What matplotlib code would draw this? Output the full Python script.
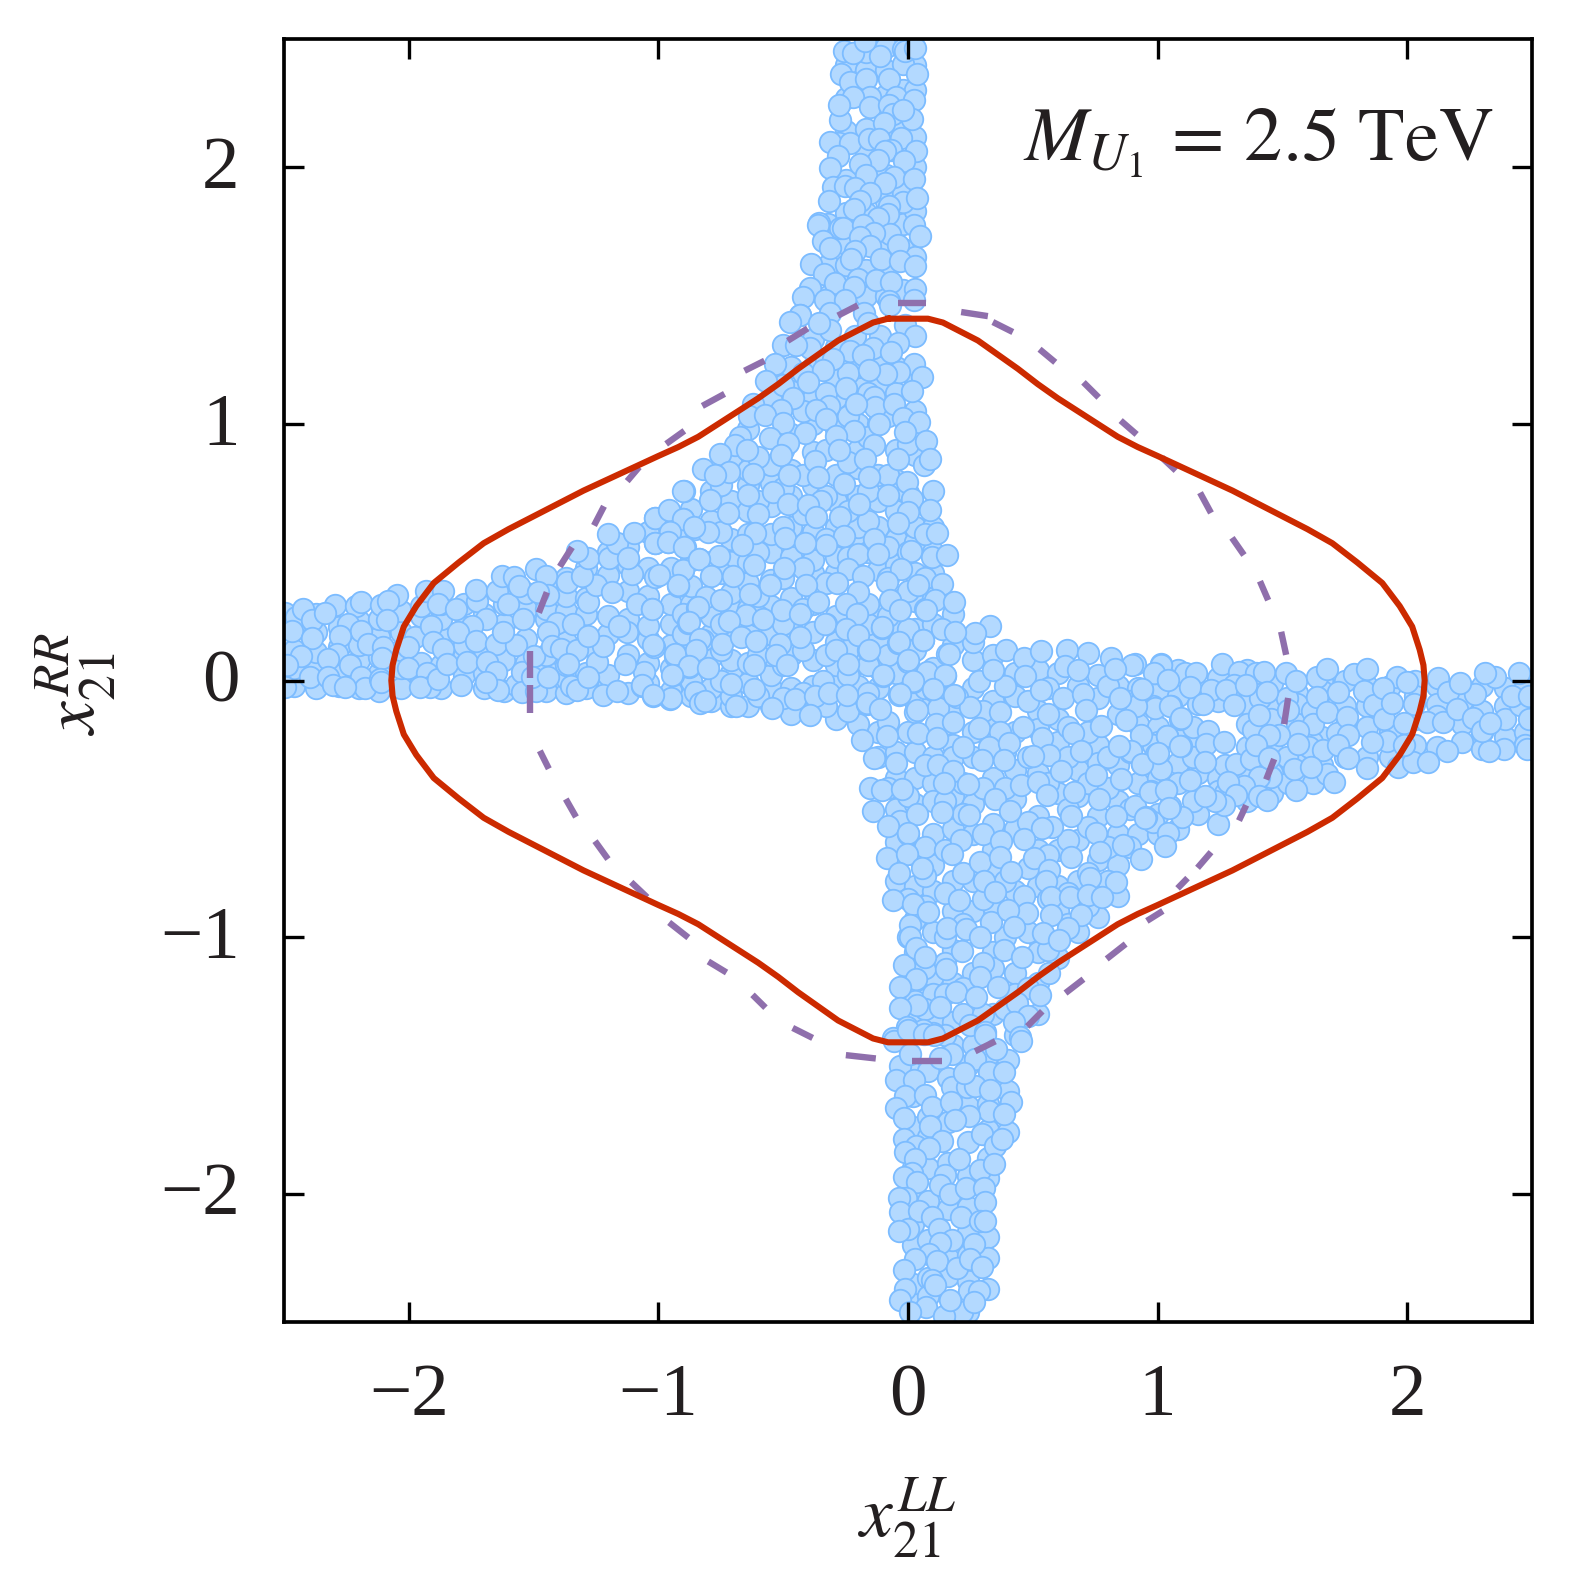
import numpy as np
import matplotlib
matplotlib.use('Agg')
import matplotlib.pyplot as plt
from matplotlib.transforms import ScaledTranslation

plt.rcParams['font.family'] = ['Liberation Serif', 'DejaVu Serif']
plt.rcParams['mathtext.fontset'] = 'stix'

# points, one list per part of the cross
top_arm = [(-0.245,2.44),(-0.21,2.43),(-0.10,2.42),(-0.01,2.39),(0,2.44),(0.04,2.45),(-0.16,2.48),(-0.255,2.35),(-0.22,2.32),(-0.155,2.33),(-0.065,2.33),(0.05,2.35),
    (-0.14,2.26),(-0.21,2.26),(-0.035,2.26),(0.035,2.25),(-0.26,2.17),(-0.265,2.23),(-0.14,2.22),(-0.065,2.23),(-0.05,2.195),(-0.085,2.16),(0.03,2.175),(-0.01,2.21),
    (-0.265,2.08),(-0.30,2.085),(-0.22,2.08),(-0.145,2.095),(-0.105,2.095),(-0.015,2.10),(-0.055,2.055),(-0.08,2.05),(0.045,2.05),(-0.11,2.015),(-0.18,2.0),(-0.005,2.01),
    (-0.27,2.03),(-0.30,1.985),(-0.155,1.955),(-0.045,1.95),(0.035,1.94),(-0.29,1.91),(-0.24,1.915),(-0.20,1.905),(-0.08,1.925),(-0.14,1.885),(-0.18,1.855),(-0.305,1.855),
    (-0.01,1.85),(0.05,1.865),(-0.205,1.825),(-0.065,1.835),(-0.07,1.805),(-0.11,1.79),(-0.345,1.77),(-0.35,1.76),(-0.26,1.75),(-0.25,1.75),(-0.17,1.76),(0.035,1.76),
    (-0.06,1.725),(-0.125,1.73),(-0.18,1.715),(0.06,1.72),(-0.33,1.70),(-0.30,1.67),(-0.03,1.685),(-0.14,1.68),(-0.20,1.66),(-0.375,1.61),(-0.215,1.63),(-0.095,1.63),
    (-0.02,1.62),(0.04,1.60),(-0.325,1.57),(-0.28,1.535),(-0.19,1.55),(-0.115,1.545),(-0.055,1.54),(-0.38,1.515),(-0.205,1.52),(0.04,1.51),(-0.41,1.48),(-0.32,1.47),
    (-0.24,1.47),(-0.065,1.465),(0.035,1.47),(-0.42,1.41),(-0.30,1.42),(-0.06,1.45),(-0.165,1.42),(0.0,1.37),(-0.1,1.33),(-0.2,1.33),(-0.3,1.35),(-0.15,1.38),(0.04,1.33),
    (-0.03,1.3),(-0.13,1.28),(-0.22,1.27)]

bottom_arm = [(-0.02,-1.515),(-0.035,-1.57),(0.035,-1.57),(0,-1.635),(0.08,-1.63),(-0.035,-1.68),(-0.005,-1.72),(0.11,-1.675),(0.19,-1.47),(0.28,-1.49),(0.335,-1.54),(0.395,-1.54),
    (0.19,-1.60),(0.25,-1.60),(0.28,-1.595),(0.185,-1.655),(0.34,-1.61),(0.425,-1.655),(0.335,-1.69),(0.255,-1.71),(0.20,-1.725),(0.395,-1.705),(0.10,-1.75),(-0.005,-1.80),
    (0.31,-1.78),(0.15,-1.81),(0.045,-1.83),(0,-1.85),(0.095,-1.835),(0.36,-1.83),(0.39,-1.80),(0.215,-1.88),(0.30,-1.92),(0.355,-1.90),(0.04,-1.88),(0.03,-1.935),
    (-0.005,-1.95),(0.05,-1.97),(0.16,-1.94),(0.14,-1.98),(0.18,-2.015),(0.245,-1.99),(0.315,-1.99),(0.005,-2.03),(-0.025,-2.03),(0.32,-2.045),(-0.02,-2.085),(0.055,-2.08),
    (0.11,-2.105),(0.225,-2.105),(0.30,-2.12),(0.32,-2.12),(0.01,-2.15),(-0.025,-2.16),(0.135,-2.15),(0.19,-2.195),(0.275,-2.21),(0.14,-2.205),(0.095,-2.25),(0.04,-2.27),
    (0.13,-2.275),(-0.005,-2.31),(0.21,-2.305),(0.26,-2.27),(0.31,-2.30),(0.11,-2.35),(0.12,-2.37),(0,-2.385),(-0.02,-2.43),(0.255,-2.395),(0.295,-2.395),(0.085,-2.455),
    (0.23,-2.475),(0.155,-2.49),(0.02,-2.475),(0.18,-2.43),(0.275,-2.435),(-0.045,-1.42),(0.01,-1.375),(0.075,-1.39),(0.115,-1.395),(0.32,-1.395),(0.365,-1.45),(0.465,-1.42),
    (0.02,-1.47),(0.14,-1.485),(0.235,-1.545)]

right_arm = [(0.92,0.05),(1.025,0.05),(1.0,0.015),(1.05,-0.01),(0.95,-0.05),(1.12,0.015),(1.165,0.015),(1.14,-0.04),(1.225,-0.05),(1.27,0.05),(1.34,0.02),(1.32,-0.03),(1.285,-0.05),
    (1.405,0.015),(1.44,0.02),(1.365,-0.03),(1.45,-0.06),(1.32,-0.11),(1.195,-0.105),(1.065,-0.115),(1.0,-0.12),(0.925,-0.115),(1.10,-0.165),(1.05,-0.23),(0.945,-0.225),
    (1.105,-0.27),(1.005,-0.30),(0.95,-0.34),(1.025,-0.36),(0.905,-0.29),(1.215,-0.21),(1.205,-0.26),(1.28,-0.255),(1.20,-0.33),(1.325,-0.34),(1.385,-0.32),(1.395,-0.205),
    (1.465,-0.165),(1.42,-0.15),(1.525,0.015),(1.565,-0.015),(1.65,0),(1.69,0.03),(1.65,-0.08),(1.735,-0.06),(1.535,-0.13),(1.635,-0.185),(1.69,-0.135),(1.575,-0.21),(1.50,-0.225),
    (1.46,-0.225),(1.405,-0.265),(1.62,-0.275),(1.575,-0.26),(1.675,-0.285),(1.73,-0.22),(1.77,-0.155),(1.775,-0.225),(1.735,-0.265),(1.775,-0.315),(1.85,-0.355),(1.975,-0.35),
    (2.035,-0.33),(2.095,-0.33),(2.17,-0.29),(2.31,-0.28),(2.40,-0.28),(2.49,-0.28),(2.34,-0.29),(1.80,0.01),(1.85,0.03),(1.84,-0.055),(1.88,-0.11),(1.92,-0.165),(1.97,0),(2.01,-0.02),
    (1.915,-0.045),(1.95,-0.10),(2.04,-0.105),(2.0,-0.18),(1.93,-0.25),(1.87,-0.255),(2.0,-0.265),(2.09,-0.175),(2.155,-0.175),(2.135,-0.005),(2.175,-0.06),(2.21,-0.125),(2.275,-0.16),
    (2.31,-0.21),(2.365,0),(2.325,0.015),(2.285,-0.065),(2.225,-0.025),(2.405,-0.165),(2.465,-0.11),(2.46,0.015),(2.50,-0.165),(2.43,-0.075),(2.345,-0.18),(2.50,-0.075),(1.635,-0.415),
    (1.69,-0.38),(1.72,-0.41),(1.535,-0.415),(1.565,-0.44),(1.465,-0.39),(1.42,-0.39),(1.56,-0.36),(1.46,-0.315),(1.625,-0.35),(1.36,-0.425),(1.295,-0.41),(1.42,-0.465),(1.325,-0.46),
    (1.28,-0.50),(1.14,-0.40),(1.045,-0.44),(0.985,-0.445),(0.92,-0.505),(1.11,-0.545),(1.06,-0.505),(1.24,-0.485),(1.20,-0.465),(1.45,-0.48),(0.965,-0.545)]

left_arm = [(-2.485,0.25),(-2.44,0.235),(-2.41,0.265),(-2.375,0.22),(-2.455,0.18),(-2.375,0.15),(-2.285,0.28),(-2.325,0.25),(-2.2,0.275),(-2.18,0.29),(-2.10,0.28),(-2.035,0.32),(-2.07,0.295),
    (-2.075,0.22),(-2.23,0.205),(-2.18,0.18),(-2.265,0.16),(-2.15,0.13),(-2.09,0.115),(-2.095,0.075),(-2.275,0.09),(-2.31,0.07),(-2.225,0.045),(-2.42,0.08),(-2.475,0.045),(-2.385,0),(-2.31,0),
    (-2.29,-0.03),(-2.485,-0.04),(-2.18,0),(-2.165,-0.045),(-2.245,-0.04),(-2.105,-0.01),(-2.10,-0.02),(-1.92,0.335),(-1.85,0.335),(-1.87,0.285),(-1.80,0.265),(-1.965,0.155),(-1.90,0.2),
    (-1.89,0.135),(-1.85,0.11),(-1.99,0.115),(-1.99,0.035),(-1.915,0.015),(-1.905,-0.04),(-1.945,-0.04),(-1.87,-0.01),(-1.835,0.05),(-1.755,0.06),(-1.78,-0.03),(-1.715,0.295),(-1.72,0.34),
    (-1.635,0.335),(-1.59,0.285),(-1.615,0.395),(-1.565,0.39),(-1.545,0.355),(-1.48,0.42),(-1.44,0.395),(-1.43,0.32),(-1.47,0.33),(-1.53,0.225),(-1.68,0.225),(-1.735,0.2),(-1.79,0.175),
    (-1.72,0.14),(-1.64,0.13),(-1.56,0.125),(-1.61,0.175),(-1.675,0.06),(-1.64,0.02),(-1.56,-0.03),(-1.535,0.02),(-1.63,-0.05),(-1.68,-0.02),(-1.535,-0.06),(-1.48,-0.055),(-1.485,0.08),
    (-1.495,0),(-1.395,0.21),(-1.33,0.205),(-1.43,0.175),(-1.415,0.12),(-1.38,0.11),(-1.315,0.105),(-1.235,0.06),(-1.43,0),(-1.34,-0.035),(-1.315,-0.05),(-1.27,0),(-1.21,-0.07),(-1.155,-0.055),
    (-1.055,-0.035),(-1.045,0.02),(-0.93,0.008),(-0.94,-0.085),(-1.01,-0.075),(-0.865,0.04),(-0.92,0.08),(-1.005,0.115),(-1.115,0.175),(-1.21,0.12),(-1.27,0.29),(-1.24,0.36),(-1.175,0.33),
    (-1.095,0.40),(-1.075,0.285),(-1.015,0.265),(-0.91,0.355),(-0.835,0.27),(-0.87,0.21),(-0.81,0.145),(-1.355,0.37),(-1.295,0.395),(-1.27,0.465),(-1.185,0.465),(-1.155,0.52),(-1.11,0.465),
    (-1.19,0.555),(-1.085,0.56),(-1.0,0.52),(-0.95,0.525),(-0.88,0.505),(-1.0,0.62),(-0.885,0.725),(-0.945,0.645),(-0.89,0.615),(-0.84,0.575),(-1.315,0.49),(-1.03,0.2),(-1.145,0.2),(-1.27,0.16),
    (-1.12,0.05),(-1.35,0.05),(-0.84,-0.06),(-0.82,-0.10),(-0.825,0.46),(-1.0,0.39),(-0.89,0.415)]

upper_centre = [(-0.42,1.41),(-0.46,1.385),(-0.345,1.38),(-0.49,1.295),(-0.38,1.28),(-0.435,1.295),(-0.29,1.24),(-0.52,1.22),(-0.555,1.155),(-0.33,1.195),(-0.39,1.15),(-0.17,1.255),(-0.055,1.265),
    (0.035,1.22),(0.07,1.17),(-0.025,1.19),(-0.075,1.18),(-0.145,1.195),(0.03,1.115),(-0.235,1.125),(-0.61,1.065),(-0.45,1.085),(-0.495,1.04),(-0.625,1.015),(-0.56,1.02),(-0.49,0.99),(-0.305,1.055),
    (-0.355,1.04),(-0.315,1.005),(-0.125,1.09),(-0.12,1.05),(-0.045,1.065),(-0.195,1.065),(-0.01,1.01),(0.055,0.995),(-0.105,0.985),(0,0.955),(-0.205,0.96),(-0.4,0.95),(-0.54,0.93),(-0.66,0.935),
    (-0.68,0.905),(-0.74,0.87),(-0.635,0.885),(-0.47,0.91),(-0.495,0.865),(-0.275,0.94),(-0.265,0.885),(-0.125,0.905),(0.085,0.92),(-0.16,0.85),(-0.03,0.85),(0.075,0.825),(0.10,0.85),(-0.36,0.84),
    (-0.81,0.81),(-0.705,0.80),(-0.76,0.785),(-0.61,0.79),(-0.465,0.785),(-0.35,0.78),(-0.145,0.78),(-0.245,0.75),(0.007,0.76),(-0.89,0.725),(-0.78,0.69),(-0.63,0.708),(-0.53,0.72),(-0.07,0.708),
    (-0.185,0.675),(0.03,0.695),(-0.335,0.685),(-0.47,0.673),(-0.39,0.67),(-0.71,0.64),(-0.59,0.635),(-1.0,0.62),(-0.947,0.65),(-0.89,0.615),(0.10,0.65),(0.014,0.643),(-0.26,0.625),(-0.355,0.625),
    (-0.79,0.565),(-0.845,0.585),(-0.60,0.56),(-0.94,0.565),(-0.03,0.6),(0.13,0.56),(-0.48,0.54),(-0.125,0.536),(-0.245,0.55),(-0.315,0.515),(-0.655,0.515),(-1.0,0.523),(-0.95,0.526),(-0.885,0.506),
    (-0.40,0.522),(-0.747,0.47),(-0.187,0.48),(-0.11,0.48),(0.023,0.49),(0.108,0.467),(0.168,0.474),(-0.824,0.461),(-0.603,0.437),(-0.486,0.425),(-0.227,0.422),(-0.016,0.419),(-0.777,0.393),(-0.69,0.393),
    (-0.542,0.36),(-0.911,0.357),(-0.395,0.36),(-0.274,0.366),(-0.167,0.392),(-0.073,0.37),(0.054,0.36),(0.148,0.363),(-0.985,0.396),(-0.623,0.325),(-0.348,0.292),(-0.187,0.331),(-0.06,0.3),(-0.797,0.311),
    (-0.737,0.3),(-1.014,0.266),(-0.83,0.272),(-0.491,0.26),(-0.238,0.285),(-0.194,0.246),(-0.02,0.26),(0.12,0.3),(0.195,0.292),(-0.639,0.24),(-0.321,0.205),(0.085,0.26),(-0.867,0.214),(-0.707,0.217),
    (-0.569,0.227),(-0.422,0.246),(-0.237,0.188),(-0.093,0.195),(0.148,0.188),(-1.011,0.123),(-0.82,0.146),(-0.733,0.13),(-0.656,0.155),(-0.596,0.14),(-0.422,0.155),(-0.187,0.162),(-0.026,0.136),
    (0.074,0.142),(0.2,0.175),(-0.92,0.088),(-0.837,0.104),(-0.502,0.13),(-0.518,0.084),(-0.278,0.104),(-0.144,0.104),(0.175,0.09),(0.014,0.065),(-0.867,0.041),(-0.935,0.009),(-1.052,-0.033),(-0.605,0.045),
    (-0.473,0.045),(-0.227,0.049),(-0.087,0.009),(-0.788,0.036),(0.087,0.019),(0.161,0.006),(0.034,-0.014),(-0.699,-0.029),(-0.328,-0.014),(-0.603,-0.049),(0.114,-0.046),(-0.022,-0.066),(0.195,-0.072),
    (-0.151,-0.101),(-0.938,-0.081),(-0.8,-0.092),(-0.442,-0.085),(-0.361,-0.076),(-0.304,-0.063),(-0.676,-0.114),(-0.532,-0.121),(-0.234,-0.072),(0.047,-0.13),(-1.011,-0.072),(-0.382,-0.15),(-0.100,-0.124)]

lower_centre = [(-0.094,0.19),(-0.027,0.132),(0.074,0.142),(0.17,0.089),(-0.148,0.103),(0.013,0.06),(0.339,0.197),(0.281,0.171),(0.406,0.106),(0.476,0.074),(0.543,0.1),(0.65,0.103),(0.733,0.093),(0.827,0.074),
    (0.911,0.045),(1.025,0.048),(-0.087,0.005),(0.033,-0.018),(0.161,0.005),(-0.023,-0.07),(0.116,-0.053),(0.21,-0.079),(0.295,-0.015),(0.352,0.028),(0.48,0.005),(0.545,-0.05),(0.64,0.041),(0.694,0.028),
    (0.84,0.031),(0.996,0.015),(1.052,-0.011),(-0.154,-0.106),(0.04,-0.138),(0.134,-0.122),(0.261,-0.118),(0.382,-0.137),(0.634,-0.083),(0.713,-0.066),(0.862,-0.083),(0.951,-0.047),(0.724,-0.128),(1.063,-0.115),
    (-0.067,-0.174),(0.125,-0.184),(0.194,-0.174),(0.295,-0.2),(0.379,-0.213),(0.472,-0.196),(0.784,-0.19),(0.884,-0.167),(1.105,-0.16),(-0.071,-0.232),(0.054,-0.219),(0.13,-0.239),(0.335,-0.275),(0.418,-0.258),
    (0.549,-0.239),(0.673,-0.219),(0.576,-0.304),(0.707,-0.287),(0.858,-0.268),(1.049,-0.229),(0.951,-0.34),(1.012,-0.297),(1.103,-0.268),(-0.174,-0.245),(-0.123,-0.317),(-0.038,-0.336),(0.134,-0.343),(0.308,-0.323),
    (0.395,-0.323),(0.513,-0.307),(0.623,-0.365),(0.766,-0.382),(0.864,-0.398),(0.192,-0.365),(-0.141,-0.434),(-0.094,-0.44),(-0.013,-0.436),(0.158,-0.414),(0.252,-0.418),(0.465,-0.423),(0.532,-0.41),(0.677,-0.447),
    (0.982,-0.447),(1.045,-0.44),(0.359,-0.475),(0.569,-0.462),(0.777,-0.475),(-0.13,-0.522),(-0.02,-0.561),(0.05,-0.535),(0.147,-0.528),(0.255,-0.54),(0.422,-0.521),(0.666,-0.544),(0.847,-0.541),(0.961,-0.548),
    (1.059,-0.509),(-0.07,-0.58),(0.013,-0.609),(0.59,-0.583),(0.549,-0.59),(0.224,-0.635),(0.386,-0.639),(0.478,-0.631),(0.764,-0.609),(1.052,-0.609),(1.041,-0.658),(-0.074,-0.707),(0.009,-0.691),(0.188,-0.691),
    (0.301,-0.72),(0.382,-0.703),(0.516,-0.704),(0.666,-0.703),(0.781,-0.683),(0.875,-0.655),(0.945,-0.711),(-0.023,-0.765),(0.067,-0.743),(0.425,-0.761),(0.576,-0.752),(0.563,-0.794),(0.741,-0.782),(0.847,-0.8),
    (0.317,-0.794),(-0.05,-0.869),(0.031,-0.886),(0.217,-0.869),(0.359,-0.84),(0.476,-0.853),(0.583,-0.859),(0.661,-0.856),(0.733,-0.85),(0.791,-0.856),(0.094,-0.918),(0.489,-0.921),(0.707,-0.928),(0.346,-0.954),
    (0.413,-0.908),(0.583,-0.928),(0.02,-0.967),(0.17,-0.98),(0.245,-0.983),(0.435,-0.973),(0.553,-0.999),(0.653,-0.98),(0.616,-1.025),(0.02,-1.012),(0.301,-1.012),(-0.004,-1.123),(0.044,-1.058),(0.08,-1.09),
    (0.165,-1.139),(0.228,-1.07),(0.395,-1.066),(0.469,-1.09),(0.576,-1.155),(0.044,-1.177),(0.299,-1.168),(0.372,-1.207),(-0.02,-1.207),(0.205,-1.229),(0.285,-1.246),(0.539,-1.24),(0.047,-1.279),(0.141,-1.285),
    (-0.02,-1.291),(0.449,-1.272),(0.493,-1.32),(0.009,-1.366),(0.114,-1.389),(0.259,-1.356),(0.435,-1.344),(0.074,-1.376),(0.322,-1.383),(0.462,-1.402),(-0.047,-1.406)]

# circles mostly hidden under the ones above, estimated column by column
hidden_columns = [(-2.46,[-0.02,0.05,0.12,0.2]),(-2.37,[-0.03,0.06,0.11,0.19,0.26]),(-2.28,[-0.02,0.04,0.13,0.21]),(-2.2,[-0.03,0.08,0.14,0.23]),(-2.12,[-0.04,0.03,0.09,0.17,0.24]),
    (-2.03,[-0.03,0.05,0.12,0.19,0.27]),(-1.95,[0.0,0.07,0.25,0.29]),(-1.87,[-0.03,0.06,0.17,0.24,0.3]),(-1.78,[0.02,0.1,0.14,0.21,0.3]),(-1.7,[-0.03,0.03,0.09,0.26]),
    (-1.62,[-0.04,0.08,0.22,0.3,0.36]),(-1.53,[0.07,0.16,0.28,0.34]),(-1.45,[-0.04,0.04,0.1,0.24,0.28,0.37]),(-1.37,[-0.05,0.01,0.06,0.15,0.27,0.33,0.4]),(-1.29,[-0.03,0.03,0.14,0.26,0.32,0.44]),
    (-1.2,[-0.02,0.02,0.18,0.25,0.41,0.5]),(-1.12,[-0.05,0.1,0.24,0.35,0.45,0.52]),(-1.04,[-0.01,0.07,0.16,0.33,0.44,0.58]),(-0.95,[-0.04,0.05,0.14,0.22,0.3,0.44,0.58]),
    (-0.87,[-0.06,0.0,0.1,0.16,0.3,0.37,0.47,0.67]),(-0.79,[-0.08,-0.03,0.09,0.18,0.25,0.46,0.62,0.74]),(-0.71,[-0.1,-0.06,0.03,0.08,0.18,0.28,0.34,0.46,0.55,0.7,0.85]),
    (-0.64,[-0.1,-0.01,0.07,0.2,0.28,0.38,0.46,0.57,0.66,0.76,0.82,0.98]),(-0.55,[-0.1,-0.03,0.02,0.1,0.18,0.29,0.39,0.5,0.57,0.68,0.77,0.84,1.1]),
    (-0.47,[-0.13,-0.03,0.1,0.2,0.32,0.48,0.6,0.72,0.82,0.96,1.13,1.22]),(-0.38,[-0.09,-0.02,0.08,0.19,0.3,0.42,0.47,0.58,0.76,0.89,1.0,1.1,1.22,1.33]),
    (-0.29,[-0.15,0.0,0.06,0.15,0.25,0.42,0.48,0.6,0.7,0.8,0.98,1.1,1.18,1.3]),(-0.2,[-0.17,-0.02,0.07,0.33,0.54,0.6,0.72,0.83,0.9,1.0,1.15,1.22]),
    (-0.12,[-0.2,-0.3,-0.03,0.05,0.16,0.27,0.43,0.6,0.7,0.8,1.0,1.14,1.22]),(-0.05,[-0.28,-0.38,-0.5,-0.63,-0.78,0.03,0.22,0.31,0.45,0.55,0.66,0.78,0.9,1.12,1.22]),
    (0.03,[-0.08,-0.28,-0.38,-0.48,-0.68,-0.8,-0.93,-1.06,-1.17,-1.25,-1.33,0.12,0.2,0.31,0.42,0.54,0.6,0.88,1.05,1.17]),
    (0.1,[-0.08,-0.2,-0.3,-0.4,-0.47,-0.6,-0.72,-0.82,-0.98,-1.15,-1.22,-1.33,0.05,0.22,0.32,0.42,0.5,0.6,0.74]),(0.18,[-0.1,-0.25,-0.3,-0.45,-0.58,-0.78,-0.9,-1.05,-1.18,-1.33,-1.42,0.14,0.26]),
    (0.26,[-0.03,-0.2,-0.3,-0.48,-0.6,-0.78,-0.9,-1.14,-1.3,-1.42,0.08,0.15]),(0.34,[-0.08,-0.18,-0.38,-0.56,-0.66,-0.75,-0.88,-1.06,-1.12,-1.3,-1.44,0.1]),
    (0.43,[-0.06,-0.2,-0.35,-0.46,-0.58,-0.82,-0.92,-1.14,-1.22,-1.3,-1.38,0.03]),(0.52,[-0.12,-0.19,-0.36,-0.53,-0.66,-0.8,-1.0,-1.06,-1.18,-1.3,0.04]),
    (0.6,[0.03,-0.15,-0.24,-0.44,-0.66,-0.8,-0.9,-1.08]),(0.68,[-0.02,-0.35,-0.45,-0.62,-0.78,-0.98]),(0.76,[0.02,-0.07,-0.25,-0.32,-0.53,-0.7,-0.92]),(0.84,[-0.02,-0.13,-0.33,-0.47,-0.6,-0.72,-0.84]),
    (0.92,[-0.03,-0.17,-0.4,-0.6]),(1.0,[-0.05,-0.18,-0.24,-0.38,-0.52,-0.6]),(1.08,[0.04,-0.06,-0.2,-0.32,-0.4,-0.58]),(1.16,[-0.09,-0.23,-0.36,-0.52]),(1.24,[0.01,-0.08,-0.38,-0.43,-0.56]),
    (1.36,[0.04,-0.09,-0.17,-0.26,-0.38,-0.47]),(1.46,[-0.01,-0.1,-0.27,-0.36,-0.44]),(1.56,[-0.05,-0.09,-0.17,-0.31,-0.39]),(1.66,[0.0,-0.04,-0.12,-0.22,-0.33]),(1.75,[0.0,-0.1,-0.18,-0.3]),
    (1.84,[-0.02,-0.1,-0.18,-0.3]),(1.93,[-0.02,-0.09,-0.2,-0.3]),(2.03,[0.0,-0.06,-0.15,-0.25]),(2.12,[-0.02,-0.09,-0.14,-0.26]),(2.22,[-0.08,-0.17,-0.24]),(2.3,[-0.02,-0.12,-0.2]),
    (2.39,[-0.03,-0.1,-0.22]),(2.47,[-0.03,-0.2,-0.25]),(-0.32,[1.5,1.62,1.78]),(-0.25,[1.55,1.62,1.7,1.82,1.95,2.14,2.27,2.4]),(-0.17,[1.5,1.6,1.82,1.92,2.05,2.15,2.38,2.45]),
    (-0.09,[1.5,1.58,1.7,1.87,1.97,2.12,2.28,2.38,2.47]),(-0.02,[1.52,1.68,1.78,1.9,2.14,2.3,2.46]),(0.03,[1.65,1.83,2.0,2.12,2.3,2.4]),(0.02,[-1.53,-1.62,-1.74,-1.9,-2.0,-2.12,-2.2,-2.35,-2.43]),
    (0.08,[-1.52,-1.7,-1.78,-1.9,-2.03,-2.18,-2.33,-2.4]),(0.16,[-1.55,-1.72,-1.88,-2.06,-2.25,-2.32,-2.47]),(0.24,[-1.5,-1.66,-1.8,-1.93,-2.05,-2.15,-2.24,-2.34,-2.46]),
    (0.32,[-1.46,-1.65,-1.75,-1.86,-1.94,-2.17,-2.25,-2.37]),(0.4,[-1.48,-1.6,-1.76]),
    (-0.9,[0.18,0.26,0.43,0.55]),(-0.75,[0.0,0.12,0.22,0.42,0.58,0.76]),(-0.6,[-0.06,0.1,0.25,0.33,0.5,0.7,0.87]),(-0.5,[-0.07,0.06,0.22,0.4,0.6,0.75,0.9,1.15]),(-0.42,[-0.05,0.12,0.28,0.44,0.65,0.8,1.05,1.2]),
    (-0.33,[-0.1,0.1,0.22,0.38,0.55,0.72,0.9,1.12,1.25]),(-0.24,[-0.12,0.02,0.12,0.3,0.48,0.66,0.85,1.03,1.2]),(-0.16,[-0.05,0.06,0.22,0.3,0.5,0.62,0.74,0.95,1.12]),(-0.08,[-0.2,-0.42,0.1,0.25,0.4,0.52,0.8,1.03]),
    (0.0,[-0.2,-0.45,-0.6,-0.85,-1.0,0.2,0.35,0.5,0.73,0.92]),(0.07,[-0.03,-0.33,-0.65,-0.76,-0.88,-1.12,-1.28,0.28,0.4,0.57]),(0.15,[-0.17,-0.47,-0.66,-0.83,-1.0,-1.1,-1.22,-1.38]),(0.22,[-0.26,-0.4,-0.52,-0.75,-0.95,-1.2,-1.3]),
    (0.3,[-0.12,-0.42,-0.6,-0.85,-1.1,-1.3]),(0.39,[-0.02,-0.28,-0.42,-0.78,-1.0,-1.28]),(0.48,[-0.08,-0.3,-0.55,-0.73,-0.98,-1.2]),(0.56,[-0.03,-0.13,-0.4,-0.68,-0.85,-1.05]),(0.64,[-0.18,-0.3,-0.5,-0.62,-0.83,-0.95]),
    (0.72,[-0.2,-0.4,-0.57,-0.75,-0.88]),(0.8,[-0.02,-0.3,-0.42,-0.65,-0.78]),(0.89,[-0.08,-0.28,-0.5,-0.65]),(0.98,[-0.1,-0.25,-0.55]),(1.14,[-0.18,-0.3,-0.47]),(1.27,[-0.33,-0.44]),(1.41,[-0.07,-0.32,-0.43]),(1.52,[-0.07,-0.3]),(1.62,[-0.12,-0.24])]

# solid contour, clockwise from the top
red_curve = [(-0.08,1.41),(0.08,1.41),(0.14,1.395),(0.2,1.365),(0.28,1.325),(0.36,1.27),(0.44,1.215),(0.52,1.155),(0.6,1.10),(0.68,1.05),(0.76,1.0),(0.84,0.95),(0.92,0.91),(1.0,0.875),(1.1,0.83),(1.2,0.785),
    (1.3,0.74),(1.4,0.69),(1.5,0.64),(1.6,0.59),(1.7,0.535),(1.8,0.46),(1.9,0.38),(1.97,0.29),(2.02,0.21),(2.05,0.12),(2.065,0.06),(2.07,0),(2.065,-0.06),(2.05,-0.12),(2.02,-0.21),(1.97,-0.29),(1.9,-0.38),(1.8,-0.46),(1.7,-0.535),
    (1.6,-0.59),(1.5,-0.64),(1.4,-0.69),(1.3,-0.74),(1.2,-0.785),(1.1,-0.83),(1.0,-0.875),(0.92,-0.91),(0.84,-0.95),(0.76,-1.0),(0.68,-1.05),(0.6,-1.10),(0.52,-1.155),(0.44,-1.215),(0.36,-1.27),(0.28,-1.325),(0.2,-1.365),(0.14,-1.395),
    (0.08,-1.41),(-0.08,-1.41),(-0.14,-1.395),(-0.2,-1.365),(-0.28,-1.325),(-0.36,-1.27),(-0.44,-1.215),(-0.52,-1.155),(-0.6,-1.10),(-0.68,-1.05),(-0.76,-1.0),(-0.84,-0.95),(-0.92,-0.91),(-1.0,-0.875),(-1.1,-0.83),(-1.2,-0.785),
    (-1.3,-0.74),(-1.4,-0.69),(-1.5,-0.64),(-1.6,-0.59),(-1.7,-0.535),(-1.8,-0.46),(-1.9,-0.38),(-1.97,-0.29),(-2.02,-0.21),(-2.05,-0.12),(-2.065,-0.06),(-2.07,0),(-2.065,0.06),(-2.05,0.12),(-2.02,0.21),(-1.97,0.29),(-1.9,0.38),(-1.8,0.46),(-1.7,0.535),
    (-1.6,0.59),(-1.5,0.64),(-1.4,0.69),(-1.3,0.74),(-1.2,0.785),(-1.1,0.83),(-1.0,0.875),(-0.92,0.91),(-0.84,0.95),(-0.76,1.0),(-0.68,1.05),(-0.6,1.10),(-0.52,1.155),(-0.44,1.215),(-0.36,1.27),(-0.28,1.325),(-0.2,1.365),(-0.14,1.395),(-0.08,1.41)]

# dashed contour, each dash as x0, y0, x1, y1
purple_dashes = [(-1.515,0.115,-1.515,0.01),(-1.515,-0.018,-1.515,-0.127),(-1.479,0.264,-1.447,0.344),(-1.395,0.444,-1.346,0.519),(-1.258,0.604,-1.218,0.679),(-1.125,0.777,-1.077,0.832),
    (-0.969,0.922,-0.896,0.973),(-0.824,1.07,-0.735,1.117),(-0.655,1.207,-0.575,1.246),(-0.482,1.324,-0.402,1.372),(-0.281,1.422,-0.201,1.462),(-0.04,1.47,0.072,1.47),
    (0.213,1.436,0.32,1.42),(0.34,1.397,0.42,1.358),(0.527,1.291,0.59,1.24),(0.703,1.162,0.764,1.103),(0.852,1.013,0.916,0.959),(1.017,0.869,1.073,0.818),(1.17,0.732,1.214,0.653),
    (1.298,0.556,1.346,0.489),(1.41,0.387,1.443,0.313),(1.495,0.19,1.515,0.1),(1.523,-0.068,1.507,-0.17),(1.467,-0.306,1.435,-0.386),(1.355,-0.486,1.326,-0.546),(1.214,-0.669,1.16,-0.73),(1.12,-0.77,1.08,-0.81),
    (1.021,-0.898,0.957,-0.937),(0.872,-1.027,0.796,-1.085),(0.703,-1.164,0.631,-1.218),(0.538,-1.289,0.478,-1.348),(0.35,-1.406,0.269,-1.445),(0.016,-1.484,0.136,-1.484),
    (-0.249,-1.46,-0.129,-1.473),(-0.462,-1.354,-0.382,-1.393),(-0.623,-1.225,-0.571,-1.275),(-0.8,-1.095,-0.727,-1.138),(-0.957,-0.943,-0.88,-1.002),(-1.109,-0.786,-1.045,-0.845),
    (-1.254,-0.626,-1.202,-0.696),(-1.371,-0.462,-1.33,-0.532),(-1.475,-0.274,-1.439,-0.344)]

ticks = [-2, -1, 0, 1, 2]
tick_labels = ['\u22122', '\u22121', '0', '1', '2']
ink = '#231f20'

fig = plt.figure(figsize=(7.87, 7.87), dpi=200)
ax = fig.add_axes([284 / 1574, 1 - 1322 / 1574, (1532 - 284) / 1574, (1322 - 39) / 1574])

hidden = np.array([(x, y) for x, ys in hidden_columns for y in ys])
points = np.array(left_arm + right_arm + lower_centre + bottom_arm + top_arm + upper_centre)
# the zoom readings above used an origin a few pixels off the true one
points = points + [-0.012, 0.014]
ax.scatter(hidden[:, 0], hidden[:, 1], s=60, facecolor='#b3d9ff', edgecolor='#7cbcff', linewidths=0.65, zorder=1)
ax.scatter(points[:, 0], points[:, 1], s=60, facecolor='#b3d9ff', edgecolor='#7cbcff', linewidths=0.65, zorder=1)

for x0, y0, x1, y1 in purple_dashes:
    ax.plot([x0, x1], [y0, y1], color='#8f6fac', lw=2.3, solid_capstyle='butt', zorder=1.5)

red = np.array(red_curve)
ax.plot(red[:, 0], red[:, 1], color='#cc2a00', lw=2.2, solid_joinstyle='round', zorder=1.8)

ax.set_xlim(-2.5, 2.5)
ax.set_ylim(-2.5, 2.5)
ax.set_xticks(ticks)
ax.set_xticklabels(tick_labels)
ax.set_yticks(ticks)
ax.set_yticklabels(tick_labels)
ax.tick_params(direction='in', top=True, right=True, length=7.2, width=1.2, labelsize=27, labelcolor=ink)
ax.tick_params(axis='x', pad=15)
ax.tick_params(axis='y', pad=16)
for label in ax.get_yticklabels():
    label.set_transform(label.get_transform() + ScaledTranslation(0, 5 / 200, fig.dpi_scale_trans))
for spine in ax.spines.values():
    spine.set_linewidth(1.33)

ax.text(0.969, 0.9057, r'$M_{U_1}\,=\,2.5\ \mathrm{TeV}$', transform=ax.transAxes, ha='right', va='baseline', fontsize=27.5, color=ink)
fig.text(907 / 1574, 1 - 1518 / 1574, r'$x_{21}^{LL}$', ha='center', va='center', fontsize=26.5, color=ink)
fig.text(76 / 1574, 1 - 683 / 1574, r'$x_{21}^{RR}$', ha='center', va='center', rotation=90, fontsize=26.5, color=ink)

fig.savefig('out.png', dpi=200)
